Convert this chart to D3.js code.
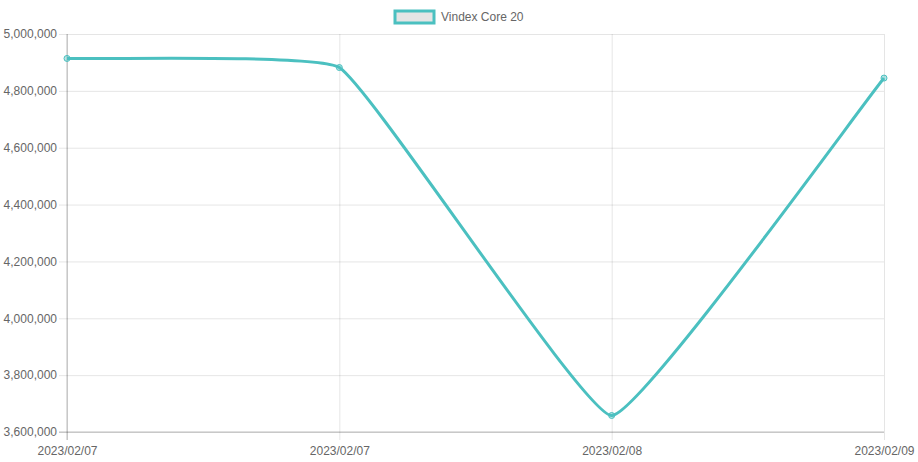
<!DOCTYPE html>
<html>
<head>
<meta charset="utf-8">
<script src="https://cdn.jsdelivr.net/npm/d3@7"></script>
<style>
  html, body { margin: 0; padding: 0; background: #fff; }
  svg { display: block; }
  text { font-family: "Liberation Sans", Arial, Helvetica, sans-serif; }
</style>
</head>
<body>
<svg id="chart" width="918" height="462"></svg>
<script>
const categories = ["2023/02/07", "2023/02/07", "2023/02/08", "2023/02/09"];
const seriesName = "Vindex Core 20";
const seriesValues = [4914000, 4882000, 3658000, 4845000];
const yTicks = [3600000, 3800000, 4000000, 4200000, 4400000, 4600000, 4800000, 5000000];

const W = 918, H = 462;
const margin = { left: 67, right: 34, top: 34, bottom: 30 };
const color = "rgb(75,192,192)";
const gridColor = "rgba(0,0,0,0.1)";
const textColor = "#666";
const tension = 0.1;

const svg = d3.select("#chart");

const x = d3.scalePoint()
  .domain(d3.range(categories.length))
  .range([margin.left, W - margin.right]);
const y = d3.scaleLinear()
  .domain([3600000, 5000000])
  .range([H - margin.bottom, margin.top]);

const fmt = d3.format(",");

// horizontal grid + y tick marks
const yAxis = d3.axisLeft(y)
  .tickValues(yTicks)
  .tickSize(-(W - margin.right - margin.left))
  .tickSizeOuter(0)
  .tickFormat(fmt)
  .tickPadding(10);
const gy = svg.append("g")
  .attr("transform", `translate(${margin.left},0)`)
  .call(yAxis);
gy.select(".domain").remove();
gy.selectAll(".tick line")
  .attr("x1", -8)
  .attr("stroke", gridColor);
gy.selectAll(".tick text")
  .attr("fill", textColor)
  .attr("font-size", 12)
  .attr("x", -10);

// vertical grid + x labels
const xAxis = d3.axisBottom(x)
  .tickSize(-(H - margin.bottom - margin.top))
  .tickSizeOuter(0)
  .tickFormat(i => categories[i])
  .tickPadding(12);
const gx = svg.append("g")
  .attr("transform", `translate(0,${H - margin.bottom})`)
  .call(xAxis);
gx.select(".domain").remove();
gx.selectAll(".tick line")
  .attr("y1", 8)
  .attr("stroke", gridColor);
gx.selectAll(".tick text")
  .attr("fill", textColor)
  .attr("font-size", 12)
  .attr("y", 14);

// axis base lines
svg.append("line")
  .attr("x1", margin.left).attr("x2", margin.left)
  .attr("y1", margin.top).attr("y2", H - margin.bottom + 8)
  .attr("stroke", "rgba(0,0,0,0.25)");
svg.append("line")
  .attr("x1", margin.left - 8).attr("x2", W - margin.right)
  .attr("y1", H - margin.bottom).attr("y2", H - margin.bottom)
  .attr("stroke", "rgba(0,0,0,0.25)");

// Bezier spline with tension (control points computed from neighbours)
const pts = seriesValues.map((v, i) => ({ x: x(i), y: y(v) }));
const n = pts.length;
const cps = pts.map((p, i) => {
  const prev = i > 0 ? pts[i - 1] : p;
  const next = i < n - 1 ? pts[i + 1] : p;
  const d01 = Math.hypot(p.x - prev.x, p.y - prev.y);
  const d12 = Math.hypot(next.x - p.x, next.y - p.y);
  let s01 = d01 / (d01 + d12), s12 = d12 / (d01 + d12);
  if (!isFinite(s01)) s01 = 0;
  if (!isFinite(s12)) s12 = 0;
  const fa = tension * s01, fb = tension * s12;
  const clampX = v => Math.max(margin.left, Math.min(W - margin.right, v));
  const clampY = v => Math.max(margin.top, Math.min(H - margin.bottom, v));
  return {
    px: clampX(p.x - fa * (next.x - prev.x)),
    py: clampY(p.y - fa * (next.y - prev.y)),
    nx: clampX(p.x + fb * (next.x - prev.x)),
    ny: clampY(p.y + fb * (next.y - prev.y))
  };
});
const path = d3.path();
path.moveTo(pts[0].x, pts[0].y);
for (let i = 1; i < n; i++) {
  path.bezierCurveTo(cps[i - 1].nx, cps[i - 1].ny, cps[i].px, cps[i].py, pts[i].x, pts[i].y);
}
svg.append("path")
  .attr("d", path.toString())
  .attr("fill", "none")
  .attr("stroke", color)
  .attr("stroke-width", 3);

svg.selectAll("circle.pt")
  .data(seriesValues)
  .join("circle")
  .attr("class", "pt")
  .attr("cx", (d, i) => x(i))
  .attr("cy", d => y(d))
  .attr("r", 3)
  .attr("fill", "rgba(75,192,192,0.4)")
  .attr("stroke", color)
  .attr("stroke-width", 1);

// legend
const lg = svg.append("g");
lg.append("rect")
  .attr("x", 395).attr("y", 11)
  .attr("width", 39).attr("height", 12)
  .attr("fill", "rgba(0,0,0,0.1)")
  .attr("stroke", color)
  .attr("stroke-width", 3);
lg.append("text")
  .attr("x", 441).attr("y", 17)
  .attr("dy", "0.35em")
  .attr("fill", textColor)
  .attr("font-size", 12)
  .text(seriesName);
</script>
</body>
</html>
